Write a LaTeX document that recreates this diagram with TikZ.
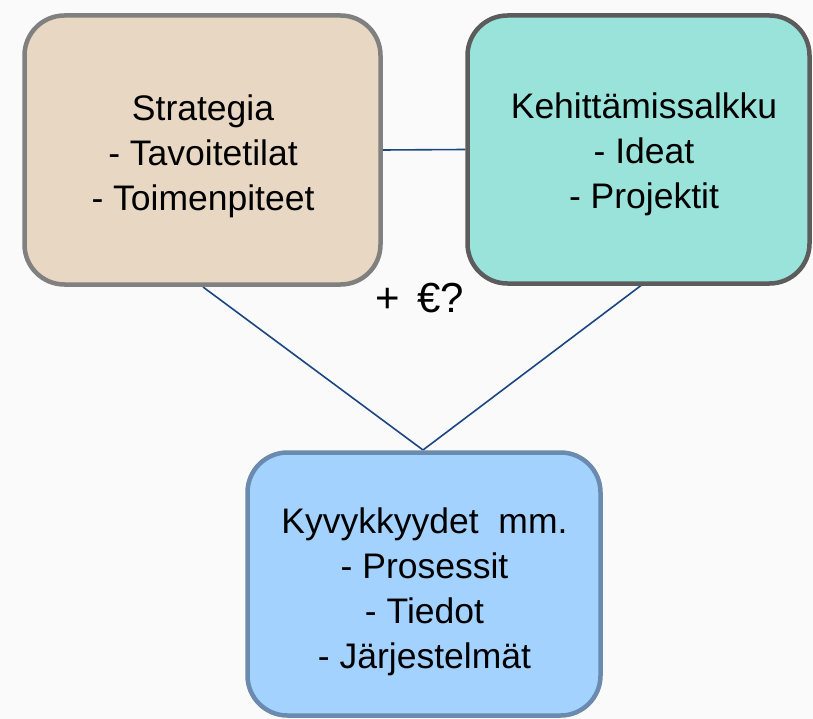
\documentclass[tikz,border=0pt]{standalone}
\usepackage{fontspec}
\setmainfont{Liberation Sans}
\definecolor{bgc}{HTML}{FAFAFA}
\definecolor{stratfill}{HTML}{E8D8C3}
\definecolor{stratdraw}{HTML}{808080}
\definecolor{kehfill}{HTML}{99E3DA}
\definecolor{kehdraw}{HTML}{5C5C5C}
\definecolor{kyvfill}{HTML}{A3D2FF}
\definecolor{kyvdraw}{HTML}{6A8AAE}
\definecolor{linkc}{HTML}{1B4682}
\tikzset{
  boxshape/.style={rectangle, rounded corners=40pt, line width=4.5pt, inner sep=0pt},
  boxtext/.style={align=center, inner sep=0pt, font=\fontsize{35.5}{45}\selectfont, text=black},
  link/.style={draw=linkc, line width=1.6pt},
}
\begin{document}
\begin{tikzpicture}[x=1pt,y=-1pt]
\fill[bgc] (0,0) rectangle (813,719);
\useasboundingbox (0,0) rectangle (813,719);

\draw[link] (203,287) -- (423,450);
\draw[link] (643,284) -- (423,450);

\node[boxshape, draw=stratdraw, fill=stratfill, minimum width=356pt, minimum height=269pt] (s) at (202.5,150) {};
\node[boxshape, draw=kehdraw, fill=kehfill, minimum width=342pt, minimum height=268pt] (k) at (638.5,149.5) {};
\node[boxshape, draw=kyvdraw, fill=kyvfill, minimum width=353pt, minimum height=263pt] (c) at (424,584) {};

\draw[link] (s.east) -- (k.west);

\node[boxtext] (st) at (203,156) {Strategia\\- Tavoitetilat\\- Toimenpiteet};
\node[boxtext] (kt) at (644,154) {Kehittämissalkku\\- Ideat\\- Projektit};
\node[boxtext] (ct) at (424.5,591.5) {Kyvykkyydet\ \ mm.\\- Prosessit\\- Tiedot\\- Järjestelmät};

\node[anchor=base, inner sep=0pt, font=\fontsize{42}{50}\selectfont] (eur) at (420,312) {+\hspace{0.4em}€?};
\end{tikzpicture}
\end{document}
